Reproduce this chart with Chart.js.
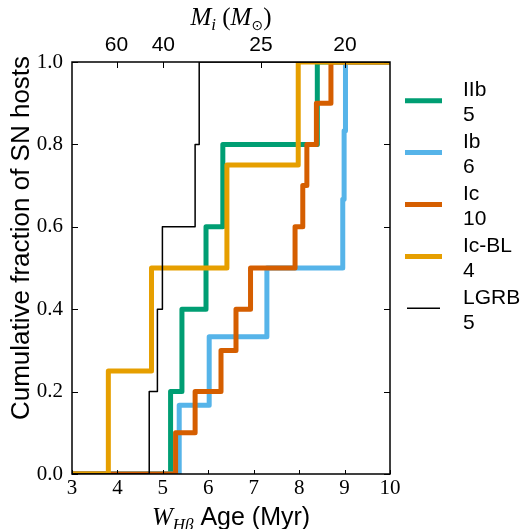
<!DOCTYPE html>
<html>
<head>
<meta charset="utf-8">
<script src="https://cdn.jsdelivr.net/npm/chart.js@4.4.1/dist/chart.umd.min.js"></script>
<style>
  html, body { margin: 0; padding: 0; background: #fff; }
  #wrap { width: 524px; height: 529px; position: relative; }
</style>
</head>
<body>
<div id="wrap"><canvas id="chart"></canvas></div>
<script>
// axis ticks
const ageTicks = [3, 4, 5, 6, 7, 8, 9, 10];
const fracTicks = [0, 0.2, 0.4, 0.6, 0.8, 1.0];
// top axis: initial mass at given age
const massTickAges = [3.98, 5.01, 7.16, 9.01];
const massTickLabels = ["60", "40", "25", "20"];

// host ages (Myr) per type, sorted
const typeNames = ["IIb", "Ib", "Ic", "Ic-BL", "LGRB"];
const typeColors = ["#009E73", "#56B4E9", "#D55E00", "#E69F00", "#000000"];
const agesIIb = [5.17, 5.42, 5.95, 6.32, 8.40];
const agesIb = [5.36, 6.02, 7.29, 8.96, 8.99, 9.02];
const agesIc = [5.28, 5.71, 6.28, 6.61, 6.93, 7.91, 8.08, 8.17, 8.38, 8.70];
const agesIcBL = [3.80, 4.75, 6.41, 7.98];
const agesLGRB = [4.70, 4.88, 4.99, 5.71, 5.80];
const typeAges = [agesIIb, agesIb, agesIc, agesIcBL, agesLGRB];

// empirical cumulative distribution
function cdf(ages) {
  const pts = [{ x: ageTicks[0], y: 0 }];
  ages.forEach((a, i) => pts.push({ x: a, y: (i + 1) / ages.length }));
  pts.push({ x: ageTicks[ageTicks.length - 1], y: 1 });
  return pts;
}

const datasets = typeNames.map((name, i) => ({
  label: name,
  count: typeAges[i].length,
  data: cdf(typeAges[i]),
  borderColor: typeColors[i],
  borderWidth: name === "LGRB" ? 1.5 : 5,
  borderJoinStyle: "round",
  stepped: "before",
  pointRadius: 0,
  fill: false,
  clip: 0,
  order: typeNames.length - i
}));

const SANS = "'Liberation Sans', Arial, sans-serif";
const SERIF = "'Liberation Serif', 'Times New Roman', serif";

// frame, inward ticks, axis titles and legend
const decorations = {
  id: "decorations",
  afterDraw(chart) {
    const ctx = chart.ctx;
    const a = chart.chartArea;
    const sx = chart.scales.x, sy = chart.scales.y, sx2 = chart.scales.x2;
    ctx.save();
    ctx.strokeStyle = "#000";
    ctx.lineWidth = 1.5;
    ctx.strokeRect(a.left, a.top, a.right - a.left, a.bottom - a.top);
    ctx.lineWidth = 1;
    ctx.beginPath();
    ageTicks.forEach(v => {
      const px = Math.round(sx.getPixelForValue(v)) + 0.5;
      ctx.moveTo(px, a.bottom); ctx.lineTo(px, a.bottom - 4);
    });
    massTickAges.forEach(v => {
      const px = Math.round(sx2.getPixelForValue(v)) + 0.5;
      ctx.moveTo(px, a.top); ctx.lineTo(px, a.top + 6);
    });
    fracTicks.forEach(v => {
      const py = Math.round(sy.getPixelForValue(v)) + 0.5;
      ctx.moveTo(a.left, py); ctx.lineTo(a.left + 6, py);
      ctx.moveTo(a.right, py); ctx.lineTo(a.right - 6, py);
    });
    ctx.stroke();

    ctx.fillStyle = "#000";
    ctx.textBaseline = "alphabetic";

    // y title
    ctx.save();
    ctx.translate(29, 238);
    ctx.rotate(-Math.PI / 2);
    ctx.textAlign = "center";
    ctx.font = "26px " + SANS;
    ctx.fillText("Cumulative fraction of SN hosts", 0, 0);
    ctx.restore();

    ctx.textAlign = "left";
    // x title: W_Hβ Age (Myr)
    const xParts = [
      { t: "W", f: "italic 25px " + SERIF, dy: 0 },
      { t: "Hβ", f: "italic 17px " + SERIF, dy: 5 },
      { t: " Age (Myr)", f: "25px " + SANS, dy: 0 }
    ];
    drawParts(ctx, xParts, (a.left + a.right) / 2, 525);

    // top title: M_i (M_⊙)
    const topParts = [
      { t: "M", f: "italic 25px " + SERIF, dy: 0 },
      { t: "i", f: "italic 17px " + SERIF, dy: 5 },
      { t: " (", f: "25px " + SERIF, dy: 0 },
      { t: "M", f: "italic 25px " + SERIF, dy: 0 },
      { t: "⊙", f: "14px 'DejaVu Sans'", dy: 5 },
      { t: ")", f: "25px " + SERIF, dy: 0 }
    ];
    drawParts(ctx, topParts, (a.left + a.right) / 2, 25);

    // legend
    ctx.font = "21px " + SANS;
    chart.data.datasets.forEach((ds, i) => {
      const cy = 100.7 + i * 51.9;
      ctx.strokeStyle = ds.borderColor;
      ctx.lineWidth = ds.borderWidth;
      ctx.beginPath();
      ctx.moveTo(ds.label === "LGRB" ? 407 : 405, cy);
      ctx.lineTo(ds.label === "LGRB" ? 440 : 442, cy);
      ctx.stroke();
      ctx.fillText(ds.label, 463, cy - 4.5);
      ctx.fillText(String(ds.count), 463, cy + 20.5);
    });
    ctx.restore();
  }
};

function drawParts(ctx, parts, cx, baseline) {
  let total = 0;
  parts.forEach(p => { ctx.font = p.f; p.w = ctx.measureText(p.t).width; total += p.w; });
  let x = cx - total / 2;
  parts.forEach(p => {
    ctx.font = p.f;
    ctx.fillText(p.t, x, baseline + p.dy);
    x += p.w;
  });
}

new Chart(document.getElementById("chart"), {
  type: "line",
  data: { datasets: datasets },
  plugins: [decorations],
  options: {
    responsive: true,
    maintainAspectRatio: false,
    animation: false,
    layout: { padding: { left: 0, right: 134, top: 0, bottom: 0 } },
    plugins: { legend: { display: false }, tooltip: { enabled: false } },
    scales: {
      x: {
        type: "linear", position: "bottom", min: 3, max: 10,
        afterBuildTicks: s => { s.ticks = ageTicks.map(v => ({ value: v })); },
        afterFit: s => { s.height = 55; },
        grid: { display: false, drawTicks: false },
        border: { display: false },
        ticks: {
          color: "#000", padding: 2, maxRotation: 0, autoSkip: false,
          font: { family: SERIF, size: 21 },
          callback: v => String(v)
        }
      },
      x2: {
        type: "linear", position: "top", min: 3, max: 10,
        afterBuildTicks: s => { s.ticks = massTickAges.map(v => ({ value: v })); },
        afterFit: s => { s.height = 62; },
        grid: { display: false, drawTicks: false },
        border: { display: false },
        ticks: {
          color: "#000", padding: 4, maxRotation: 0, autoSkip: false,
          font: { family: SANS, size: 21 },
          callback: v => massTickLabels[massTickAges.indexOf(v)]
        }
      },
      y: {
        type: "linear", position: "left", min: 0, max: 1,
        afterBuildTicks: s => { s.ticks = fracTicks.map(v => ({ value: v })); },
        afterFit: s => { s.width = 72; },
        grid: { display: false, drawTicks: false },
        border: { display: false },
        ticks: {
          color: "#000", padding: 9,
          font: { family: SERIF, size: 21 },
          callback: v => v.toFixed(1)
        }
      }
    }
  }
});
</script>
</body>
</html>
